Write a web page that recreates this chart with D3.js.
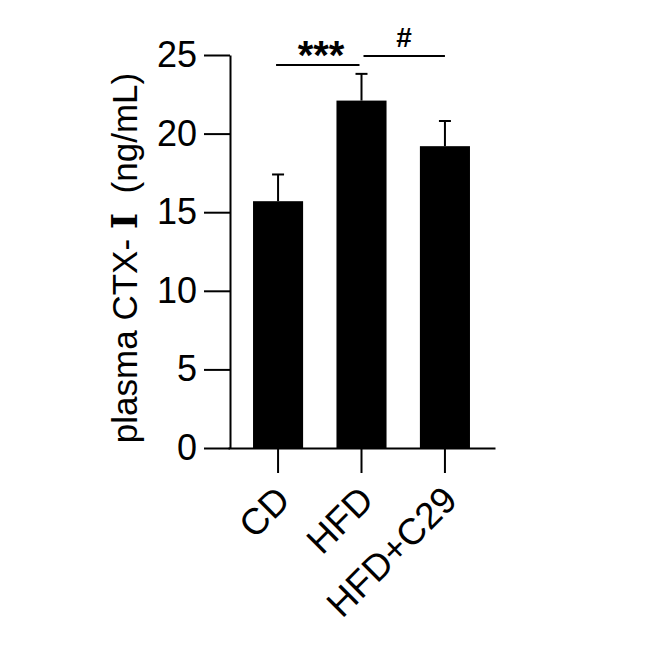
<!DOCTYPE html>
<html>
<head>
<meta charset="utf-8">
<script src="https://cdn.jsdelivr.net/npm/d3@7"></script>
<style>
  body { margin: 0; background: #fff; }
  svg { display: block; }
  text { font-family: "Liberation Sans", Arial, sans-serif; fill: #000; }
</style>
</head>
<body>
<svg id="chart" width="648" height="650"></svg>
<script>
const categories = ["CD", "HFD", "HFD+C29"];
const means = [15.7, 22.1, 19.2];
const errors = [1.7, 1.7, 1.6];
const yTicks = [0, 5, 10, 15, 20, 25];
const yTitleParts = ["plasma CTX- ", "\u2160", "\u00a0\u00a0(ng/mL)"];
const sigMarks = [
  { from: "CD", to: "HFD", label: "***" },
  { from: "HFD", to: "HFD+C29", label: "#" }
];

const svg = d3.select("#chart");

const x = d3.scaleBand().domain(categories).range([228, 495])
  .paddingInner(0.4).paddingOuter(0.3);
const y = d3.scaleLinear().domain([0, 25]).range([448, 55]);

// bars
svg.append("g").selectAll("rect").data(categories).join("rect")
  .attr("x", d => x(d))
  .attr("y", (d, i) => y(means[i]))
  .attr("width", x.bandwidth())
  .attr("height", (d, i) => y(0) - y(means[i]))
  .attr("fill", "#000");

// error bars (upper only)
const eb = svg.append("g").attr("stroke", "#000").attr("stroke-width", 2);
categories.forEach((c, i) => {
  const cx = x(c) + x.bandwidth() / 2;
  eb.append("line").attr("x1", cx).attr("x2", cx)
    .attr("y1", y(means[i])).attr("y2", y(means[i] + errors[i]));
  eb.append("line").attr("x1", cx - 6).attr("x2", cx + 6)
    .attr("y1", y(means[i] + errors[i])).attr("y2", y(means[i] + errors[i]));
});

// y axis
const yAxis = svg.append("g").attr("transform", "translate(230,0)")
  .call(d3.axisLeft(y).tickValues(yTicks).tickSize(26).tickSizeOuter(0).tickPadding(7));
yAxis.select(".domain").attr("stroke-width", 2);
yAxis.selectAll(".tick line").attr("stroke-width", 2);
yAxis.selectAll(".tick text").attr("font-size", 36)
  .style("font-family", "'Liberation Sans', Arial, sans-serif");

// x axis
const xAxis = svg.append("g").attr("transform", "translate(0,448)")
  .call(d3.axisBottom(x).tickSize(25).tickSizeOuter(0).tickFormat(""));
xAxis.select(".domain").attr("stroke-width", 2);
xAxis.selectAll(".tick line").attr("stroke-width", 2);

// x labels rotated
svg.append("g").selectAll("text").data(categories).join("text")
  .attr("transform", d => `translate(${x(d) + x.bandwidth() / 2 + 5},${493}) rotate(-45)`)
  .attr("text-anchor", "end")
  .attr("dy", "0.35em")
  .attr("font-size", 37)
  .text(d => d);

// y title
const yt = svg.append("text")
  .attr("transform", "translate(137,258) rotate(-90)")
  .attr("text-anchor", "middle")
  .attr("font-size", 35)
  .style("white-space", "pre");
yt.selectAll("tspan").data(yTitleParts).join("tspan")
  .style("font-family", (d, i) => i === 1 ? "'DejaVu Serif', serif" : null)
  .attr("font-weight", (d, i) => i === 1 ? "bold" : null)
  .text(d => d);

// significance
const sig = svg.append("g");
sigMarks.forEach((s, k) => {
  const x1 = x(s.from) + x.bandwidth() / 2;
  const x2 = x(s.to) + x.bandwidth() / 2;
  const ly = k === 0 ? 65 : 56;
  sig.append("line").attr("x1", x1 + (k === 0 ? -2 : 2)).attr("x2", x2 + (k === 0 ? -2 : 0))
    .attr("y1", ly).attr("y2", ly).attr("stroke", "#000").attr("stroke-width", 2);
  sig.append("text")
    .attr("x", k === 0 ? 321 : 404)
    .attr("y", k === 0 ? 69 : 47)
    .attr("text-anchor", "middle")
    .attr("font-size", k === 0 ? 40 : 28)
    .attr("font-weight", "bold")
    .text(s.label);
});
</script>
</body>
</html>
